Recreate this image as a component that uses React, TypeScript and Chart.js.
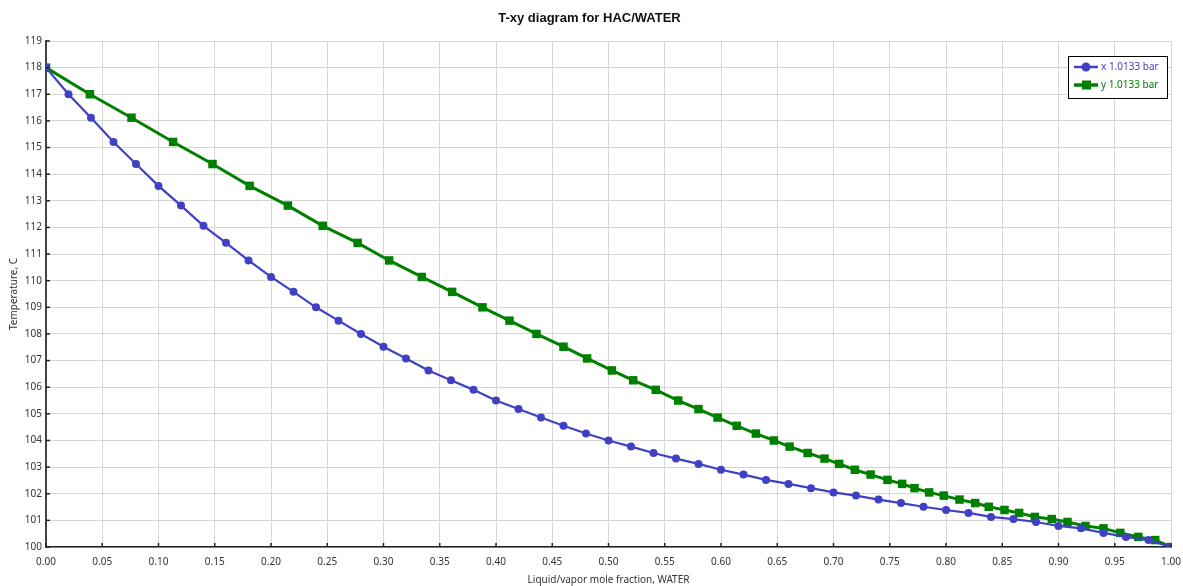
import React, { useEffect, useRef } from "react";
import { Chart, registerables } from "chart.js";

Chart.register(...registerables);

const TITLE = "T-xy diagram for HAC/WATER";
const X_TITLE = "Liquid/vapor mole fraction, WATER";
const Y_TITLE = "Temperature, C";
const SERIES_X_LABEL = "x 1.0133 bar";
const SERIES_Y_LABEL = "y 1.0133 bar";

// Liquid mole fraction of water
const LIQUID_X = [
  0.0, 0.02, 0.04, 0.06, 0.08, 0.1, 0.12, 0.14, 0.16, 0.18,
  0.2, 0.22, 0.24, 0.26, 0.28, 0.3, 0.32, 0.34, 0.36, 0.38,
  0.4, 0.42, 0.44, 0.46, 0.48, 0.5, 0.52, 0.54, 0.56, 0.58,
  0.6, 0.62, 0.64, 0.66, 0.68, 0.7, 0.72, 0.74, 0.76, 0.78,
  0.8, 0.82, 0.84, 0.86, 0.88, 0.9, 0.92, 0.94, 0.96, 0.98, 1.0,
];

// Vapor mole fraction of water (same temperatures)
const VAPOR_Y = [
  0.0, 0.039, 0.076, 0.113, 0.148, 0.181, 0.215, 0.246, 0.277, 0.305,
  0.334, 0.361, 0.388, 0.412, 0.436, 0.46, 0.481, 0.503, 0.522, 0.542,
  0.562, 0.58, 0.597, 0.614, 0.631, 0.647, 0.661, 0.677, 0.692, 0.705,
  0.719, 0.733, 0.748, 0.761, 0.772, 0.785, 0.798, 0.812, 0.826, 0.838,
  0.852, 0.865, 0.879, 0.894, 0.908, 0.924, 0.94, 0.955, 0.971, 0.986, 1.0,
];

// Temperature, C
const TEMPERATURE = [
  118.0, 117.0, 116.12, 115.21, 114.38, 113.56, 112.82, 112.06, 111.42, 110.76,
  110.14, 109.58, 109.0, 108.5, 108.0, 107.52, 107.08, 106.63, 106.26, 105.9,
  105.5, 105.18, 104.86, 104.55, 104.26, 104.0, 103.77, 103.53, 103.32, 103.12,
  102.9, 102.72, 102.52, 102.37, 102.21, 102.05, 101.93, 101.78, 101.65, 101.51,
  101.39, 101.28, 101.13, 101.05, 100.94, 100.79, 100.7, 100.53, 100.38, 100.26, 100.0,
];

const BLUE = "#4040c4";
const GREEN = "#008000";
const FONT = "'Noto Sans', 'Liberation Sans', sans-serif";

const extrasPlugin = {
  id: "extras",
  afterDraw(chart: any) {
    const { ctx, chartArea, scales } = chart;
    const xs = scales.x;
    const ys = scales.y;
    ctx.save();
    // title
    ctx.fillStyle = "#111";
    ctx.font = "bold 13px 'Liberation Sans', Arial, sans-serif";
    ctx.textAlign = "center";
    ctx.textBaseline = "middle";
    ctx.fillText(TITLE, chart.width / 2 - 2, 18);

    // inner tick marks
    ctx.strokeStyle = "#222";
    ctx.lineWidth = 1.5;
    xs.ticks.forEach((t: any) => {
      const px = xs.getPixelForValue(t.value);
      ctx.beginPath();
      ctx.moveTo(px, chartArea.bottom);
      ctx.lineTo(px, chartArea.bottom - 4);
      ctx.stroke();
    });
    ys.ticks.forEach((t: any) => {
      const py = ys.getPixelForValue(t.value);
      ctx.beginPath();
      ctx.moveTo(chartArea.left, py);
      ctx.lineTo(chartArea.left + 4, py);
      ctx.stroke();
    });

    // legend
    const bw = 99;
    const bh = 42;
    const bx = chartArea.right - 4 - bw;
    const by = chartArea.top + 15;
    ctx.fillStyle = "#fff";
    ctx.fillRect(bx, by, bw, bh);
    ctx.strokeStyle = "#000";
    ctx.lineWidth = 1;
    ctx.strokeRect(bx + 0.5, by + 0.5, bw, bh);
    const rows = [
      { label: SERIES_X_LABEL, color: BLUE, style: "circle", lw: 2.5 },
      { label: SERIES_Y_LABEL, color: GREEN, style: "rect", lw: 3.5 },
    ];
    rows.forEach((r, i) => {
      const cy = by + 11 + i * 18;
      ctx.strokeStyle = r.color;
      ctx.lineWidth = r.lw;
      ctx.beginPath();
      ctx.moveTo(bx + 6, cy);
      ctx.lineTo(bx + 30, cy);
      ctx.stroke();
      ctx.fillStyle = r.color;
      if (r.style === "circle") {
        ctx.beginPath();
        ctx.arc(bx + 18, cy, 4.5, 0, Math.PI * 2);
        ctx.fill();
      } else {
        ctx.fillRect(bx + 14, cy - 4.5, 9, 9);
      }
      ctx.font = `10px ${FONT}`;
      ctx.textAlign = "left";
      ctx.textBaseline = "middle";
      ctx.fillText(r.label, bx + 33, cy);
    });
    ctx.restore();
  },
};

export default function App() {
  const ref = useRef<HTMLCanvasElement | null>(null);

  useEffect(() => {
    document.body.style.margin = "0";
    const canvas = ref.current;
    if (!canvas) return;
    const liquid = LIQUID_X.map((x, i) => ({ x, y: TEMPERATURE[i] }));
    const vapor = VAPOR_Y.map((x, i) => ({ x, y: TEMPERATURE[i] }));
    const chart = new Chart(canvas, {
      type: "scatter",
      data: {
        datasets: [
          {
            label: SERIES_X_LABEL,
            data: liquid,
            showLine: true,
            borderColor: BLUE,
            backgroundColor: BLUE,
            borderWidth: 2.2,
            pointStyle: "circle",
            pointRadius: 4,
            pointBorderWidth: 0,
            order: 1,
          },
          {
            label: SERIES_Y_LABEL,
            data: vapor,
            showLine: true,
            borderColor: GREEN,
            backgroundColor: GREEN,
            borderWidth: 3,
            pointStyle: "rect",
            pointRadius: 6,
            pointBorderWidth: 0,
            order: 2,
          },
        ],
      },
      options: {
        animation: false,
        responsive: false,
        maintainAspectRatio: false,
        layout: { padding: { left: 0, top: 41, right: 12, bottom: 0 } },
        plugins: {
          legend: { display: false },
          title: { display: false },
          tooltip: { enabled: false },
        },
        scales: {
          x: {
            type: "linear",
            min: 0,
            max: 1,
            ticks: {
              stepSize: 0.05,
              callback: (v: any) => Number(v).toFixed(2),
              font: { family: FONT, size: 10 },
              color: "#333",
              padding: 9,
              maxRotation: 0,
              autoSkip: false,
            },
            grid: { color: "#d6d6d6", lineWidth: 1, drawTicks: false },
            border: { color: "#222", width: 1.5 },
            title: {
              display: true,
              text: X_TITLE,
              font: { family: FONT, size: 10 },
              color: "#333",
              padding: { top: 0, bottom: 0 },
            },
            afterFit: (s: any) => {
              s.height = 39;
              s.paddingLeft = 0;
              s.paddingRight = 0;
            },
          },
          y: {
            type: "linear",
            min: 100,
            max: 119,
            ticks: {
              stepSize: 1,
              font: { family: FONT, size: 10 },
              color: "#333",
              padding: 4,
              autoSkip: false,
            },
            grid: { color: "#d6d6d6", lineWidth: 1, drawTicks: false },
            border: { color: "#444", width: 2 },
            title: {
              display: true,
              text: Y_TITLE,
              font: { family: FONT, size: 10 },
              color: "#333",
              padding: { top: 8, bottom: 0 },
            },
            afterFit: (s: any) => {
              s.width = 46;
              s.paddingTop = 0;
              s.paddingBottom = 0;
            },
          },
        },
      },
      plugins: [extrasPlugin],
    });
    return () => chart.destroy();
  }, []);

  return (
    <div style={{ width: 1183, height: 586, background: "#fff" }}>
      <canvas ref={ref} width={1183} height={586} style={{ display: "block" }} />
    </div>
  );
}
